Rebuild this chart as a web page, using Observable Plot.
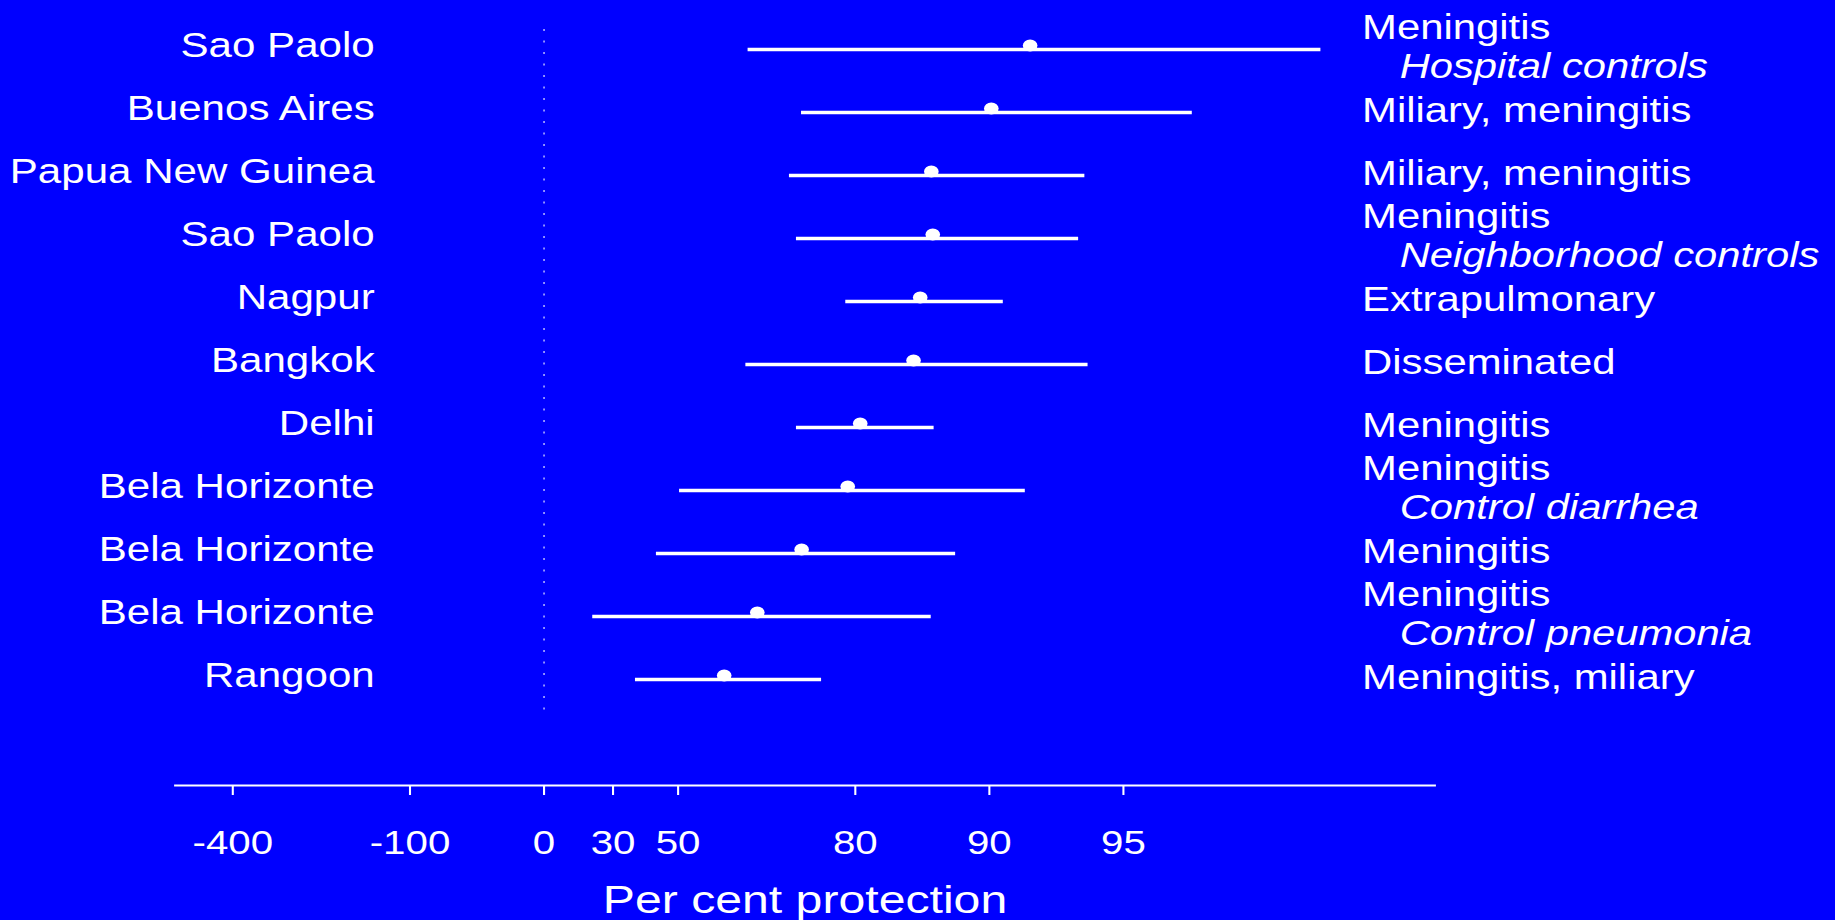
<!DOCTYPE html>
<html><head><meta charset="utf-8">
<script src="https://cdn.jsdelivr.net/npm/d3@7"></script>
<script src="https://cdn.jsdelivr.net/npm/@observablehq/plot@0.6"></script>
<style>
html,body{margin:0;padding:0;background:#0000ff;overflow:hidden}
</style></head><body><div id="chart"></div>
<script>
// ---- data ----
const cities = ["Sao Paolo","Buenos Aires","Papua New Guinea","Sao Paolo","Nagpur","Bangkok","Delhi","Bela Horizonte","Bela Horizonte","Bela Horizonte","Rangoon"];
const diseases = ["Meningitis","Miliary, meningitis","Miliary, meningitis","Meningitis","Extrapulmonary","Disseminated","Meningitis","Meningitis","Meningitis","Meningitis","Meningitis, miliary"];
const controls = ["Hospital controls","","","Neighborhood controls","","","","Control diarrhea","","Control pneumonia",""];
const protection = [91.9,90.1,86.5,86.6,85.7,85.2,80.5,79.2,73.6,66.8,60.6];
const lower = [65.2,73.6,71.9,72.9,79.0,64.8,72.9,50.4,44.1,22.3,37.7];
const upper = [98.2,96.5,93.9,93.7,90.7,94.0,86.7,91.7,88.1,86.5,76.2];
const tickValues = [-400,-100,0,30,50,80,90,95];
const axisEnds = [-573, 99.0];
const axisTitle = "Per cent protection";

// per cent protection -> relative risk (plotted on a reversed log scale)
const rr = p => 1 - p / 100;
const rows = cities.map((c, i) => ({i, city: c, disease: diseases[i], control: controls[i], p: protection[i], lo: lower[i], hi: upper[i]}));

const STRETCH = 1.22;           // the reference slide is stretched horizontally
const W = 1504;
const chart = Plot.plot({
  width: W, height: 920,
  marginLeft: 143.2, marginRight: 328.6, marginTop: 13, marginBottom: 135,
  style: {background: "#0000ff", color: "white", fontFamily: "'Liberation Sans', Arial, Helvetica, sans-serif", overflow: "visible"},
  x: {type: "log", domain: axisEnds.map(rr)},
  y: {type: "point", domain: d3.range(rows.length), range: [46.7, 680.7], padding: 0, axis: null},
  marks: [
    Plot.frame({anchor: "bottom", stroke: "white", strokeWidth: 2}),
    Plot.ruleX([0], {x: d => rr(d), stroke: "white", strokeOpacity: 0.6, strokeWidth: 1.5, strokeDasharray: "2,9.5", insetTop: 16, insetBottom: 70}),
    Plot.ruleY(rows, {y: "i", x1: d => rr(d.lo), x2: d => rr(d.hi), stroke: "white", strokeWidth: 3.6}),
    Plot.dot(rows, {y: "i", x: d => rr(d.p), r: 6, fill: "white", stroke: "none", dy: -4}),
    Plot.axisX({ticks: tickValues.map(rr), tickFormat: () => "", tickSize: 10, strokeWidth: 1.7, label: null}),
    Plot.text(tickValues, {x: rr, text: d => String(d), frameAnchor: "bottom", lineAnchor: "top", dy: 45, fontSize: 33, fill: "white"}),
    Plot.text(rows, {y: "i", text: "city", frameAnchor: "left", dx: 163.4, textAnchor: "end", lineAnchor: "bottom", dy: 7, fontSize: 34.5, fill: "white"}),
    Plot.text(rows, {filter: d => d.control === "", y: "i", text: "disease", frameAnchor: "left", dx: 972.7, textAnchor: "start", lineAnchor: "bottom", dy: 9, fontSize: 34.3, fill: "white"}),
    Plot.text(rows, {filter: d => d.control !== "", y: "i", text: "disease", frameAnchor: "left", dx: 972.7, textAnchor: "start", lineAnchor: "bottom", dy: -11, fontSize: 34.3, fill: "white"}),
    Plot.text(rows, {filter: d => d.control !== "", y: "i", text: "control", frameAnchor: "left", dx: 1003.5, textAnchor: "start", lineAnchor: "bottom", dy: 28, fontSize: 34.2, fontStyle: "italic", fill: "white"}),
    Plot.text([axisTitle], {frameAnchor: "bottom", lineAnchor: "bottom", dy: 127, fontSize: 39.5, fill: "white"})
  ]
});
chart.setAttribute("width", Math.round(W * STRETCH));
chart.setAttribute("height", 920);
chart.setAttribute("preserveAspectRatio", "none");
chart.style.width = Math.round(W * STRETCH) + "px";
chart.style.height = "920px";
chart.style.maxWidth = "none";
document.getElementById("chart").appendChild(chart);
</script></body></html>
